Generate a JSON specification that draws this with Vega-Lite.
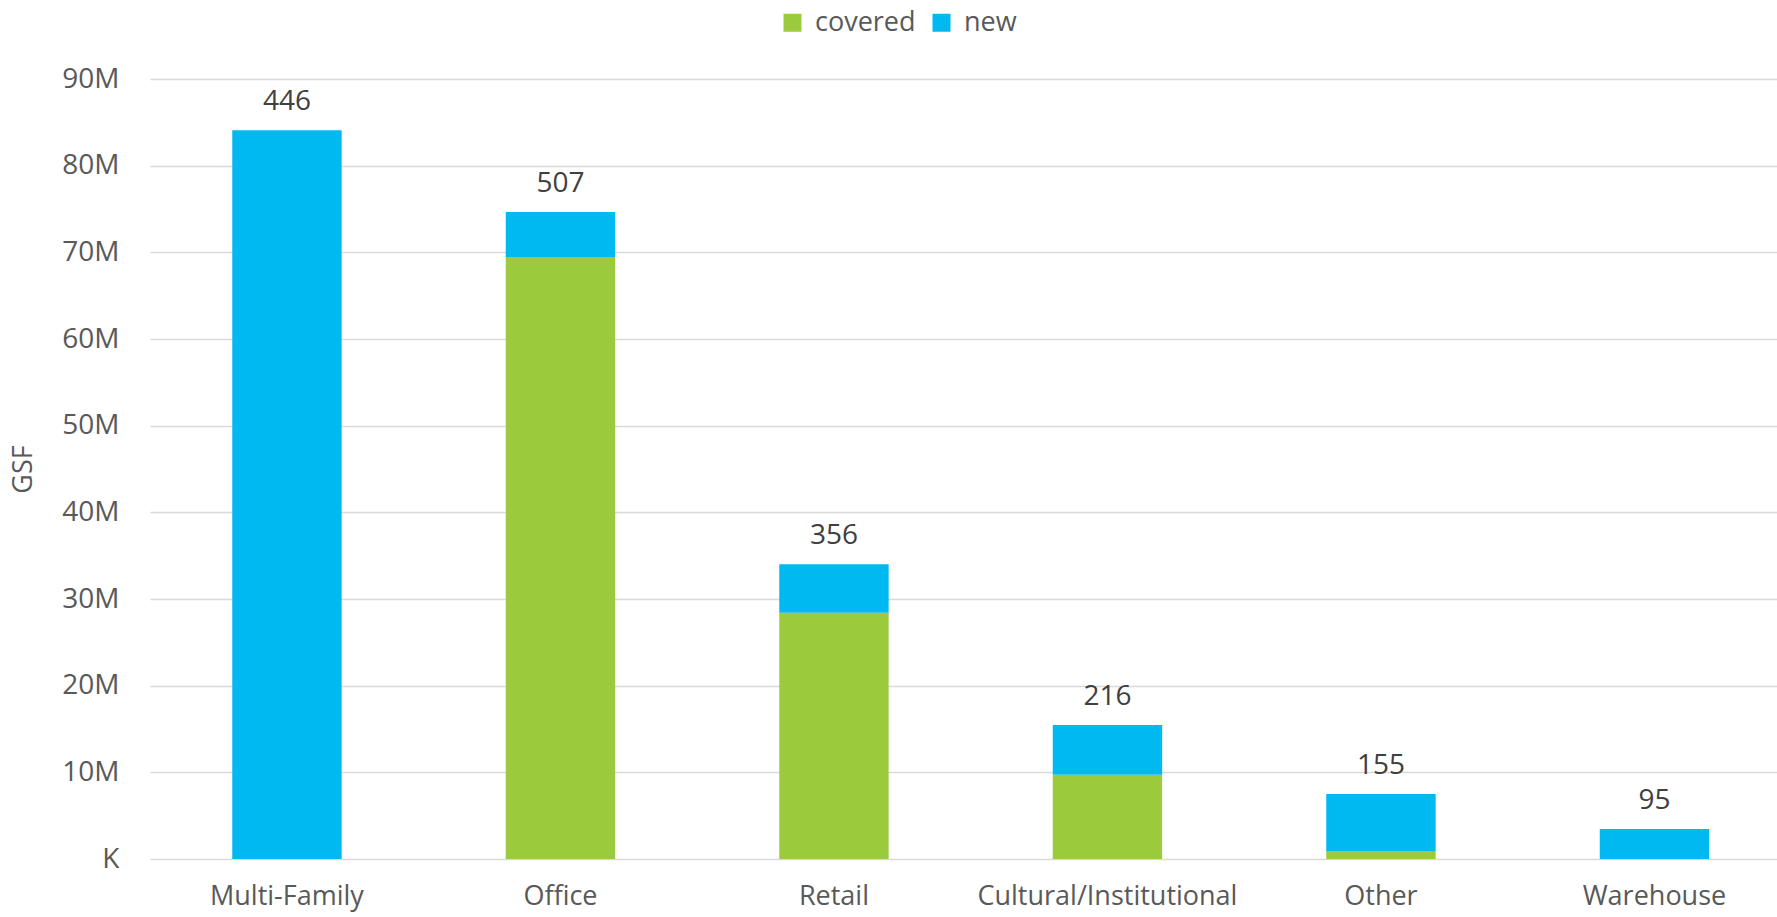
{
  "$schema": "https://vega.github.io/schema/vega-lite/v6.json",
  "autosize": {"type": "none"},
  "width": 1627,
  "height": 780,
  "padding": {"left": 150, "top": 79, "right": 0, "bottom": 58},
  "background": "white",
  "config": {
    "view": {"stroke": null},
    "font": "Open Sans",
    "axis": {"labelFont": "Open Sans", "titleFont": "Open Sans"},
    "legend": {"labelFont": "Open Sans"}
  },
  "data": {
    "values": [
      {"type": "Multi-Family", "status": "covered", "gsf": 0, "count": 446},
      {"type": "Multi-Family", "status": "new", "gsf": 84080000, "count": 446},
      {"type": "Office", "status": "covered", "gsf": 69460000, "count": 507},
      {"type": "Office", "status": "new", "gsf": 5190000, "count": 507},
      {"type": "Retail", "status": "covered", "gsf": 28420000, "count": 356},
      {"type": "Retail", "status": "new", "gsf": 5580000, "count": 356},
      {"type": "Cultural/Institutional", "status": "covered", "gsf": 9730000, "count": 216},
      {"type": "Cultural/Institutional", "status": "new", "gsf": 5730000, "count": 216},
      {"type": "Other", "status": "covered", "gsf": 920000, "count": 155},
      {"type": "Other", "status": "new", "gsf": 6580000, "count": 155},
      {"type": "Warehouse", "status": "covered", "gsf": 0, "count": 95},
      {"type": "Warehouse", "status": "new", "gsf": 3460000, "count": 95}
    ]
  },
  "encoding": {
    "x": {
      "field": "type",
      "type": "nominal",
      "sort": ["Multi-Family", "Office", "Retail", "Cultural/Institutional", "Other", "Warehouse"],
      "scale": {"paddingInner": 0.6, "paddingOuter": 0.2744, "align": 0.548},
      "axis": {
        "title": null,
        "labelAngle": 0,
        "labelFontSize": 27,
        "labelColor": "#595959",
        "labelLimit": 0,
        "ticks": false,
        "domain": false,
        "grid": false,
        "labelPadding": 24
      }
    }
  },
  "layer": [
    {
      "mark": {"type": "bar"},
      "encoding": {
        "y": {
          "field": "gsf",
          "type": "quantitative",
          "aggregate": "sum",
          "stack": "zero",
          "scale": {"domain": [0, 90000000], "nice": false},
          "axis": {
            "title": "GSF",
            "titleFontSize": 27,
            "titleFontWeight": "normal",
            "titleColor": "#595959",
            "titlePadding": 24,
            "values": [0, 10000000, 20000000, 30000000, 40000000, 50000000, 60000000, 70000000, 80000000, 90000000],
            "labelExpr": "datum.value == 0 ? 'K' : (datum.value / 1000000) + 'M'",
            "labelFontSize": 28,
            "labelColor": "#595959",
            "labelPadding": 31,
            "ticks": false,
            "domain": false,
            "grid": true,
            "gridColor": "#d9d9d9",
            "gridWidth": 1.5
          }
        },
        "order": {"field": "status", "type": "nominal", "sort": "ascending"},
        "color": {
          "field": "status",
          "type": "nominal",
          "scale": {"domain": ["covered", "new"], "range": ["#9BCA3C", "#00B9F1"]},
          "legend": {
            "title": null,
            "orient": "none",
            "direction": "horizontal",
            "legendX": 629,
            "legendY": -70,
            "symbolType": "square",
            "symbolSize": 324,
            "symbolStrokeWidth": 0,
            "labelFontSize": 27,
            "labelColor": "#595959",
            "labelOffset": 9,
            "columnPadding": 12
          }
        }
      }
    },
    {
      "transform": [
        {"aggregate": [{"op": "sum", "field": "gsf", "as": "total"}, {"op": "max", "field": "count", "as": "n"}], "groupby": ["type"]}
      ],
      "mark": {"type": "text", "baseline": "alphabetic", "dy": -20, "fontSize": 28, "color": "#404040"},
      "encoding": {
        "y": {"field": "total", "type": "quantitative"},
        "text": {"field": "n", "type": "quantitative"}
      }
    }
  ]
}
